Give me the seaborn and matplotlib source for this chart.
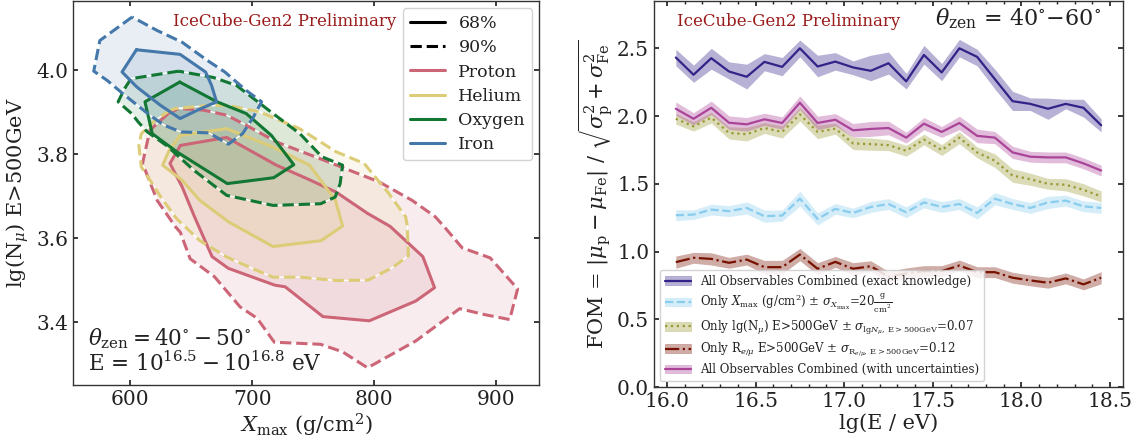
import numpy as np
import pandas as pd
import matplotlib
matplotlib.use("Agg")
import matplotlib.pyplot as plt
import seaborn as sns
from matplotlib.lines import Line2D
from matplotlib.patches import Patch

# ---------------- left panel: contour polygons (Xmax [g/cm2], lg(Nmu)) ----------------
proton_90_x = [631, 639.5, 660, 679, 695, 720, 755, 779.5, 804, 831, 850, 858, 872, 895, 917.5, 911, 890, 870, 834, 794.5, 774, 756, 718, 704, 690, 669, 649, 641, 637, 622, 610, 616, 631]
proton_90_y = [3.897, 3.909, 3.905, 3.893, 3.869, 3.829, 3.790, 3.762, 3.734, 3.690, 3.651, 3.625, 3.577, 3.553, 3.479, 3.406, 3.418, 3.432, 3.355, 3.291, 3.329, 3.347, 3.352, 3.409, 3.436, 3.508, 3.551, 3.614, 3.627, 3.690, 3.778, 3.857, 3.897]
proton_68_x = [641, 632.5, 642.5, 652.6, 667, 680.4, 718.4, 727, 757.9, 795.9, 833.9, 849.4, 839.8, 813, 794.5, 768.6, 744.7, 719.7, 679, 641]
proton_68_y = [3.821, 3.778, 3.722, 3.651, 3.556, 3.528, 3.488, 3.484, 3.413, 3.403, 3.450, 3.482, 3.556, 3.628, 3.659, 3.710, 3.742, 3.774, 3.840, 3.821]

helium_90_x = [630.7, 636.7, 660, 679, 706, 738.7, 768.6, 791.7, 812, 825.7, 827, 828, 815, 795, 769, 739, 717, 703, 679, 657, 638, 625, 609, 607, 609, 620, 630.7]
helium_90_y = [3.901, 3.909, 3.915, 3.917, 3.901, 3.861, 3.806, 3.778, 3.706, 3.651, 3.630, 3.558, 3.530, 3.500, 3.499, 3.507, 3.507, 3.524, 3.555, 3.594, 3.646, 3.698, 3.770, 3.821, 3.849, 3.880, 3.901]
helium_68_x = [641, 632, 626.5, 642.4, 657, 680.4, 717, 756.4, 774, 768.2, 746.9, 717, 679, 641]
helium_68_y = [3.845, 3.810, 3.774, 3.738, 3.690, 3.639, 3.580, 3.594, 3.629, 3.690, 3.774, 3.817, 3.861, 3.845]

oxygen_90_x = [639.5, 600.5, 595, 590, 601, 607, 614, 630, 652, 679, 717, 756, 768, 772, 774, 757, 739, 717, 700, 687, 668, 639.5]
oxygen_90_y = [3.998, 3.980, 3.955, 3.925, 3.897, 3.875, 3.853, 3.820, 3.762, 3.702, 3.678, 3.682, 3.698, 3.730, 3.774, 3.794, 3.849, 3.897, 3.935, 3.964, 3.983, 3.998]
oxygen_68_x = [640.5, 612, 618, 638, 679.5, 717.5, 734, 715.6, 695, 671, 640.5]
oxygen_68_y = [3.972, 3.925, 3.849, 3.806, 3.730, 3.744, 3.775, 3.845, 3.897, 3.925, 3.972]

iron_90_x = [601.5, 575, 570, 581, 594, 616, 627.8, 641.5, 664.3, 680.4, 692, 701, 707.6, 695, 677.5, 662.9, 642.4, 621.9, 601.5]
iron_90_y = [4.127, 4.071, 3.998, 3.976, 3.944, 3.893, 3.869, 3.853, 3.851, 3.824, 3.849, 3.889, 3.925, 3.952, 3.996, 4.024, 4.067, 4.095, 4.127]
iron_68_x = [605, 593.2, 605.4, 624.5, 640.8, 655, 670.7, 666.6, 661.7, 640.8, 605]
iron_68_y = [4.049, 3.996, 3.960, 3.917, 3.885, 3.905, 3.925, 3.964, 3.996, 4.038, 4.049]

species = ["Proton", "Helium", "Oxygen", "Iron"]
species_colors = ["#CC6677", "#DDCC77", "#117733", "#4477AA"]
contours = {
    "Proton": ((proton_68_x, proton_68_y), (proton_90_x, proton_90_y)),
    "Helium": ((helium_68_x, helium_68_y), (helium_90_x, helium_90_y)),
    "Oxygen": ((oxygen_68_x, oxygen_68_y), (oxygen_90_x, oxygen_90_y)),
    "Iron": ((iron_68_x, iron_68_y), (iron_90_x, iron_90_y)),
}

# ---------------- right panel: FOM vs lg(E/eV) ----------------
lg_E = [16.05, 16.15, 16.25, 16.35, 16.45, 16.55, 16.65, 16.75, 16.85, 16.95,
        17.05, 17.15, 17.25, 17.35, 17.45, 17.55, 17.65, 17.75, 17.85, 17.95,
        18.05, 18.15, 18.25, 18.35, 18.45]

fom_exact = [2.432, 2.305, 2.427, 2.329, 2.290, 2.400, 2.363, 2.500, 2.366, 2.402,
             2.359, 2.334, 2.390, 2.256, 2.451, 2.322, 2.500, 2.437, 2.273, 2.110,
             2.090, 2.054, 2.090, 2.061, 1.932]
fom_exact_hi = [2.493, 2.376, 2.500, 2.400, 2.383, 2.461, 2.432, 2.561, 2.449, 2.468,
                2.407, 2.449, 2.473, 2.315, 2.522, 2.388, 2.566, 2.493, 2.346, 2.183,
                2.134, 2.132, 2.124, 2.124, 1.980]
fom_exact_lo = [2.371, 2.249, 2.346, 2.273, 2.200, 2.334, 2.298, 2.437, 2.290, 2.339,
                2.305, 2.261, 2.310, 2.200, 2.383, 2.261, 2.437, 2.371, 2.200, 2.041,
                2.041, 1.976, 2.054, 1.993, 1.883]

fom_xmax = [1.268, 1.273, 1.310, 1.298, 1.322, 1.261, 1.266, 1.390, 1.241, 1.315,
            1.285, 1.329, 1.351, 1.290, 1.363, 1.329, 1.351, 1.285, 1.390, 1.351,
            1.322, 1.363, 1.376, 1.334, 1.322]
fom_xmax_err = [0.040, 0.035, 0.040, 0.040, 0.045, 0.045, 0.040, 0.055, 0.045, 0.040,
                0.035, 0.040, 0.040, 0.040, 0.040, 0.040, 0.040, 0.045, 0.045, 0.040,
                0.040, 0.045, 0.040, 0.040, 0.040]

fom_nmu = [1.980, 1.924, 1.988, 1.876, 1.866, 1.912, 1.883, 2.012, 1.883, 1.907,
           1.798, 1.793, 1.785, 1.744, 1.827, 1.749, 1.841, 1.732, 1.671, 1.561,
           1.534, 1.500, 1.493, 1.456, 1.407]
fom_nmu_err = [0.040, 0.035, 0.040, 0.045, 0.050, 0.040, 0.045, 0.050, 0.050, 0.040,
               0.045, 0.045, 0.040, 0.040, 0.040, 0.040, 0.045, 0.040, 0.050, 0.050,
               0.045, 0.040, 0.045, 0.045, 0.040]

fom_remu = [0.922, 0.954, 0.946, 0.917, 0.941, 0.885, 0.885, 0.978, 0.873, 0.924,
            0.873, 0.892, 0.814, 0.839, 0.856, 0.856, 0.897, 0.848, 0.848, 0.807,
            0.787, 0.770, 0.802, 0.758, 0.807]
fom_remu_err = [0.045, 0.040, 0.045, 0.040, 0.040, 0.050, 0.050, 0.045, 0.045, 0.040,
                0.045, 0.040, 0.040, 0.040, 0.040, 0.040, 0.040, 0.040, 0.040, 0.040,
                0.040, 0.040, 0.040, 0.040, 0.045]

fom_unc = [2.054, 1.980, 2.061, 1.951, 1.939, 1.976, 1.949, 2.098, 1.949, 1.973,
           1.895, 1.905, 1.912, 1.841, 1.944, 1.883, 1.949, 1.854, 1.841, 1.732,
           1.700, 1.695, 1.695, 1.651, 1.598]
fom_unc_err = [0.050, 0.045, 0.050, 0.050, 0.050, 0.045, 0.045, 0.050, 0.050, 0.045,
               0.050, 0.055, 0.050, 0.040, 0.045, 0.040, 0.050, 0.050, 0.045, 0.045,
               0.040, 0.040, 0.040, 0.040, 0.040]

labels_right = [
    "All Observables Combined (exact knowledge)",
    r"Only $X_\mathrm{max}$ (g/cm$^2$) $\pm$ $\sigma_{X_\mathrm{max}}$=20$\frac{\mathrm{g}}{\mathrm{cm}^2}$",
    r"Only lg(N$_\mu$) E>500GeV $\pm$ $\sigma_{\mathrm{lg}N_\mu,\,\mathrm{E>500GeV}}$=0.07",
    r"Only R$_{e/\mu}$ E>500GeV $\pm$ $\sigma_{\mathrm{R}_{e/\mu},\,\mathrm{E>500GeV}}$=0.12",
    "All Observables Combined (with uncertainties)",
]

# ---------------- style ----------------
sns.set_theme(style="ticks")
plt.rcParams.update({
    "font.family": ["DejaVu Serif"],
    "mathtext.fontset": "dejavuserif",
    "axes.edgecolor": "#333333",
    "axes.linewidth": 1.0,
    "xtick.direction": "in",
    "ytick.direction": "in",
    "xtick.top": True,
    "ytick.right": True,
    "xtick.labelsize": 14.5,
    "ytick.labelsize": 14.5,
    "xtick.major.size": 3.5,
    "ytick.major.size": 3.5,
    "xtick.minor.size": 2.0,
    "xtick.color": "#222222",
    "ytick.color": "#222222",
    "axes.labelcolor": "#222222",
    "text.color": "#222222",
})

fig = plt.figure(figsize=(11.46, 4.48), dpi=100)
ax1 = fig.add_axes([0.0637, 0.1406, 0.4066, 0.857])
ax2 = fig.add_axes([0.5707, 0.136, 0.4092, 0.862])

# ---- left panel ----
for name, col in zip(species, species_colors):
    (x68, y68), (x90, y90) = contours[name]
    ax1.fill(x90, y90, facecolor=col, alpha=0.12, edgecolor="none", zorder=1)
    ax1.fill(x68, y68, facecolor=col, alpha=0.12, edgecolor="none", zorder=1)
for name, col in zip(species, species_colors):
    (x68, y68), (x90, y90) = contours[name]
    ax1.plot(x90, y90, color="white", lw=1.0, zorder=2)
    sns.lineplot(x=x90, y=y90, ax=ax1, sort=False, estimator=None, color=col,
                 lw=2.2, linestyle="--", zorder=3)
    sns.lineplot(x=x68, y=y68, ax=ax1, sort=False, estimator=None, color=col,
                 lw=2.2, linestyle="-", zorder=3)

ax1.set_xlim(553, 935)
ax1.set_ylim(3.25, 4.165)
ax1.set_xticks([600, 700, 800, 900])
ax1.set_yticks([3.4, 3.6, 3.8, 4.0])
ax1.set_xlabel(r"$X_\mathrm{max}$ (g/cm$^2$)", fontsize=15, labelpad=2)
ax1.set_ylabel(r"lg(N$_\mu$) E>500GeV", fontsize=15, labelpad=4)

handles = [Line2D([], [], color="black", lw=2.2, ls="-"),
           Line2D([], [], color="black", lw=2.2, ls="--")]
handles += [Line2D([], [], color=c, lw=2.2) for c in species_colors]
ax1.legend(handles, ["68%", "90%"] + species, loc="upper right", fontsize=12.5,
           frameon=True, framealpha=0.85, borderaxespad=0.4, handlelength=2.0,
           labelspacing=0.42)

ax1.text(0.215, 0.968, "IceCube-Gen2 Preliminary", transform=ax1.transAxes,
         color="#9a1b1b", fontsize=12, ha="left", va="top")
ax1.text(0.032, 0.104, r"$\theta_\mathrm{zen} = 40^{\circ} - 50^{\circ}$",
         transform=ax1.transAxes, fontsize=15.5, ha="left", va="baseline")
ax1.text(0.032, 0.036, r"E = $10^{16.5} - 10^{16.8}$ eV",
         transform=ax1.transAxes, fontsize=15.5, ha="left", va="baseline")

# ---- right panel ----
series = [
    (fom_exact, fom_exact_lo, fom_exact_hi, "#332288", "-"),
    (fom_xmax, [v - e for v, e in zip(fom_xmax, fom_xmax_err)],
     [v + e for v, e in zip(fom_xmax, fom_xmax_err)], "#88CCEE", "--"),
    (fom_nmu, [v - e for v, e in zip(fom_nmu, fom_nmu_err)],
     [v + e for v, e in zip(fom_nmu, fom_nmu_err)], "#999933", ":"),
    (fom_remu, [v - e for v, e in zip(fom_remu, fom_remu_err)],
     [v + e for v, e in zip(fom_remu, fom_remu_err)], "#771100", "-."),
    (fom_unc, [v - e for v, e in zip(fom_unc, fom_unc_err)],
     [v + e for v, e in zip(fom_unc, fom_unc_err)], "#AA4499", "-"),
]
leg_handles = []
for vals, lo, hi, col, ls in series:
    ax2.fill_between(lg_E, lo, hi, color=col, alpha=0.35, lw=0)
    sns.lineplot(x=lg_E, y=vals, ax=ax2, color=col, linestyle=ls, lw=1.6)
    leg_handles.append((Patch(facecolor=col, alpha=0.35, edgecolor=col, lw=0.5),
                        Line2D([], [], color=col, ls=ls, lw=1.6)))

ax2.set_xlim(15.927, 18.573)
ax2.set_ylim(0.0, 2.85)
ax2.set_xticks([16.0, 16.5, 17.0, 17.5, 18.0, 18.5])
ax2.set_xticks(np.arange(16.0, 18.55, 0.1), minor=True)
ax2.set_yticks([0.0, 0.5, 1.0, 1.5, 2.0, 2.5])
ax2.tick_params(axis="x", which="minor", top=True, direction="in")
ax2.set_xlabel("lg(E / eV)", fontsize=15, labelpad=2)
ax2.set_ylabel(r"FOM = $|\mu_\mathrm{p} - \mu_\mathrm{Fe}|$ / $\sqrt{\sigma_\mathrm{p}^2 + \sigma_\mathrm{Fe}^2}$",
               fontsize=15, labelpad=2)
ax2.legend(leg_handles, labels_right, loc="lower left", fontsize=8.5, frameon=True,
           framealpha=0.85, borderaxespad=0.5, handlelength=2.2, labelspacing=0.35)
ax2.text(0.049, 0.968, "IceCube-Gen2 Preliminary", transform=ax2.transAxes,
         color="#9a1b1b", fontsize=12, ha="left", va="top")
ax2.text(0.60, 0.985, r"$\theta_\mathrm{zen}$ = 40$^{\circ}$$-$60$^{\circ}$",
         transform=ax2.transAxes, fontsize=16, ha="left", va="top")

fig.savefig("out.png", dpi=100)
